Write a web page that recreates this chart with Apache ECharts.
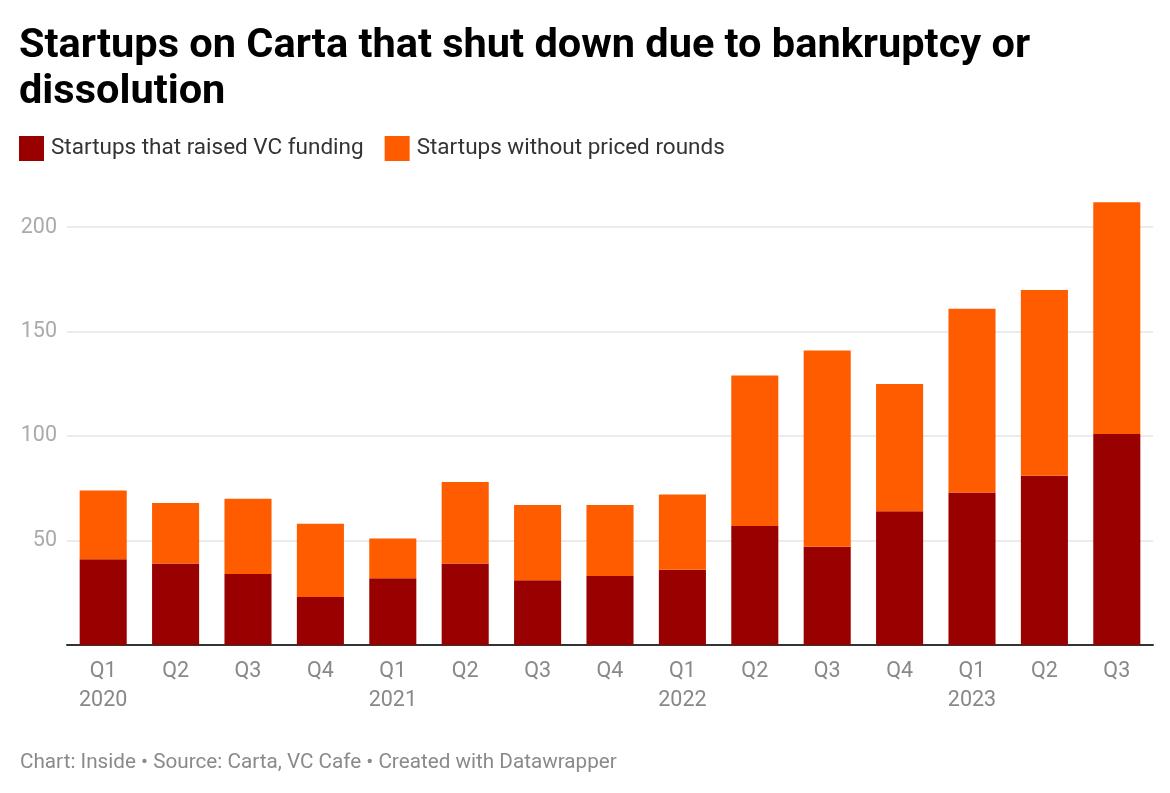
<!DOCTYPE html>
<html>
<head>
<meta charset="utf-8">
<script src="https://cdn.jsdelivr.net/npm/echarts@6/dist/echarts.min.js"></script>
<style>
  html, body { margin: 0; padding: 0; background: #fff; }
  #container { width: 1170px; height: 793px; }
</style>
</head>
<body>
<div id="container"></div>
<script>
var quarters = ['Q1', 'Q2', 'Q3', 'Q4', 'Q1', 'Q2', 'Q3', 'Q4', 'Q1', 'Q2', 'Q3', 'Q4', 'Q1', 'Q2', 'Q3'];
var years = ['2020', '', '', '', '2021', '', '', '', '2022', '', '', '', '2023', '', ''];
var vcFunded = [41, 39, 34, 23, 32, 39, 31, 33, 36, 57, 47, 64, 73, 81, 101];
var totals = [74, 68, 70, 58, 51, 78, 67, 67, 72, 129, 141, 125, 161, 170, 212];
var yTicks = [50, 100, 150, 200];

var categories = quarters.map(function (q, i) {
    return years[i] ? q + '\n' + years[i] : q;
});
var noPriced = totals.map(function (t, i) {
    return t - vcFunded[i];
});

var myChart = echarts.init(document.getElementById('container'));
var font = 'Roboto, "Noto Sans", sans-serif';

var option = {
    backgroundColor: '#fff',
    animation: false,
    textStyle: { fontFamily: font },
    title: [{
        text: 'Startups on Carta that shut down due to bankruptcy or\ndissolution',
        left: 19,
        top: 24,
        padding: 0,
        textStyle: { fontSize: 41.5, fontWeight: 'bold', color: '#000', lineHeight: 46, fontFamily: font }
    }, {
        text: 'Chart: Inside \u2022 Source: Carta, VC Cafe \u2022 Created with Datawrapper',
        left: 20,
        top: 752,
        padding: 0,
        textStyle: { fontSize: 20.7, fontWeight: 'normal', color: '#8a8a8a', fontFamily: font }
    }],
    legend: {
        left: 19,
        top: 136,
        padding: 0,
        itemWidth: 25,
        itemHeight: 25,
        itemGap: 21,
        icon: 'rect',
        textStyle: { fontSize: 22.5, color: '#333', fontFamily: font, padding: [0, 0, 0, 2] },
        data: ['Startups that raised VC funding', 'Startups without priced rounds']
    },
    grid: {
        left: 67,
        right: 17,
        top: 175,
        bottom: 148,
        containLabel: false
    },
    xAxis: {
        type: 'category',
        data: categories,
        axisTick: { show: false },
        axisLine: { lineStyle: { color: '#333', width: 2 } },
        axisLabel: {
            color: '#888',
            fontSize: 21.5,
            lineHeight: 29,
            margin: 12,
            interval: 0,
            fontFamily: font
        }
    },
    yAxis: {
        type: 'value',
        min: 0,
        max: 225,
        interval: 50,
        axisLine: { show: false },
        axisTick: { show: false },
        splitLine: { lineStyle: { color: '#e5e5e5', width: 1.5 }, showMaxLine: false },
        axisLabel: {
            color: '#aaa',
            fontSize: 21.5,
            margin: 10,
            showMinLabel: false,
            showMaxLabel: false,
            fontFamily: font,
            formatter: function (v) {
                return yTicks.indexOf(v) >= 0 ? String(v) : '';
            }
        }
    },
    series: [{
        name: 'Startups that raised VC funding',
        type: 'bar',
        stack: 'total',
        barCategoryGap: '35%',
        itemStyle: { color: '#990000' },
        data: vcFunded
    }, {
        name: 'Startups without priced rounds',
        type: 'bar',
        stack: 'total',
        barCategoryGap: '35%',
        itemStyle: { color: '#ff5c00' },
        data: noPriced
    }]
};

if (option && typeof option === 'object') {
    myChart.setOption(option);
}
</script>
</body>
</html>
